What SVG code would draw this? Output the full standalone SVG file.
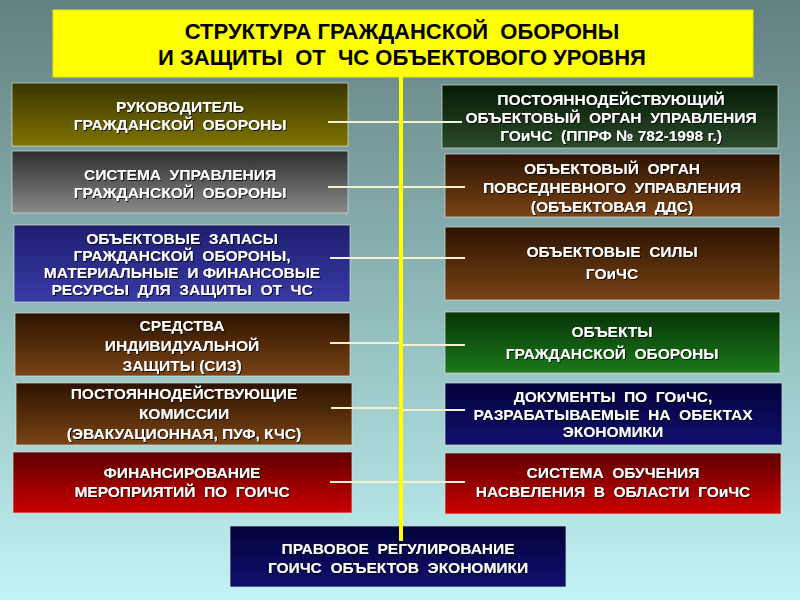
<svg xmlns="http://www.w3.org/2000/svg" width="800" height="600" viewBox="0 0 800 600">
<defs>
<linearGradient id="bg" x1="0" y1="0" x2="0" y2="1">
<stop offset="0" stop-color="#62807f"/><stop offset="0.5" stop-color="#8fb9b9"/><stop offset="1" stop-color="#c2f3f5"/>
</linearGradient>
<linearGradient id="olive" x1="0" y1="0" x2="0" y2="1"><stop offset="0" stop-color="#3a3500"/><stop offset="1" stop-color="#807400"/></linearGradient>
<linearGradient id="grey" x1="0" y1="0" x2="0" y2="1"><stop offset="0" stop-color="#2e2e2e"/><stop offset="1" stop-color="#8a8a8a"/></linearGradient>
<linearGradient id="blue" x1="0" y1="0" x2="0" y2="1"><stop offset="0" stop-color="#1e1e70"/><stop offset="1" stop-color="#3a3aa6"/></linearGradient>
<linearGradient id="brown" x1="0" y1="0" x2="0" y2="1"><stop offset="0" stop-color="#2c1300"/><stop offset="1" stop-color="#7a4416"/></linearGradient>
<linearGradient id="red" x1="0" y1="0" x2="0" y2="1"><stop offset="0" stop-color="#5e0000"/><stop offset="1" stop-color="#cc0000"/></linearGradient>
<linearGradient id="dgreen" x1="0" y1="0" x2="0" y2="1"><stop offset="0" stop-color="#061a06"/><stop offset="1" stop-color="#2a4a2a"/></linearGradient>
<linearGradient id="green" x1="0" y1="0" x2="0" y2="1"><stop offset="0" stop-color="#063406"/><stop offset="1" stop-color="#1c7a1c"/></linearGradient>
<linearGradient id="navy" x1="0" y1="0" x2="0" y2="1"><stop offset="0" stop-color="#02023a"/><stop offset="1" stop-color="#10106e"/></linearGradient>
<linearGradient id="tick" x1="0" y1="0" x2="0" y2="1"><stop offset="0" stop-color="#f4f4d8" stop-opacity="0"/><stop offset="0.5" stop-color="#f4f4d8"/><stop offset="1" stop-color="#f4f4d8" stop-opacity="0"/></linearGradient>
<filter id="sh" x="-10%" y="-30%" width="120%" height="160%"><feDropShadow dx="1" dy="1" stdDeviation="0.6" flood-color="#000" flood-opacity="0.8"/></filter>
</defs>
<style>
text{white-space:pre}
.box{stroke:#d8e0d8;stroke-width:1;stroke-opacity:0.7}
.t{font-family:"Liberation Sans",Arial,sans-serif;font-weight:bold;font-size:15.5px;fill:#fff;text-anchor:middle;filter:url(#sh)}
.title{font-family:"Liberation Sans",Arial,sans-serif;font-weight:bold;font-size:22px;fill:#000;text-anchor:middle}
.h{stroke:#f2f2d0;stroke-width:2;fill:none}
.v{stroke:url(#tick);stroke-width:1.5;fill:none}
</style>
<rect width="800" height="600" fill="url(#bg)"/>

<g id="title">
<rect x="53" y="10" width="700" height="67" fill="#ffff00" stroke="#e8e800"/>
<text class="title" x="402" y="39">СТРУКТУРА ГРАЖДАНСКОЙ  ОБОРОНЫ</text>
<text class="title" x="402" y="65">И ЗАЩИТЫ  ОТ  ЧС ОБЪЕКТОВОГО УРОВНЯ</text>
</g>

<g id="l1"><rect class="box" x="12" y="83" width="336" height="63" fill="url(#olive)"/>
<text class="t" x="180" y="112">РУКОВОДИТЕЛЬ</text><text class="t" x="180" y="130">ГРАЖДАНСКОЙ  ОБОРОНЫ</text></g>
<g id="l2"><rect class="box" x="12" y="151" width="336" height="62" fill="url(#grey)"/>
<text class="t" x="180" y="180">СИСТЕМА  УПРАВЛЕНИЯ</text><text class="t" x="180" y="198">ГРАЖДАНСКОЙ  ОБОРОНЫ</text></g>
<g id="l3"><rect class="box" x="14" y="225" width="336" height="77" fill="url(#blue)"/>
<text class="t" x="182" y="244">ОБЪЕКТОВЫЕ  ЗАПАСЫ</text><text class="t" x="182" y="261">ГРАЖДАНСКОЙ  ОБОРОНЫ,</text><text class="t" x="182" y="278">МАТЕРИАЛЬНЫЕ  И ФИНАНСОВЫЕ</text><text class="t" x="182" y="295">РЕСУРСЫ  ДЛЯ  ЗАЩИТЫ  ОТ  ЧС</text></g>
<g id="l4"><rect class="box" x="15" y="313" width="335" height="63" fill="url(#brown)"/>
<text class="t" x="182" y="331">СРЕДСТВА</text><text class="t" x="182" y="351">ИНДИВИДУАЛЬНОЙ</text><text class="t" x="182" y="371">ЗАЩИТЫ (СИЗ)</text></g>
<g id="l5"><rect class="box" x="16" y="383" width="336" height="62" fill="url(#brown)"/>
<text class="t" x="184" y="399">ПОСТОЯННОДЕЙСТВУЮЩИЕ</text><text class="t" x="184" y="419">КОМИССИИ</text><text class="t" x="184" y="439">(ЭВАКУАЦИОННАЯ, ПУФ, КЧС)</text></g>
<g id="l6"><rect class="box" x="13" y="452" width="339" height="61" fill="url(#red)"/>
<text class="t" x="182" y="478">ФИНАНСИРОВАНИЕ</text><text class="t" x="182" y="497">МЕРОПРИЯТИЙ  ПО  ГОИЧС</text></g>

<g id="r1"><rect class="box" x="442" y="85" width="336" height="63" fill="url(#dgreen)"/>
<text class="t" x="611" y="105">ПОСТОЯННОДЕЙСТВУЮЩИЙ</text><text class="t" x="611" y="123">ОБЪЕКТОВЫЙ  ОРГАН  УПРАВЛЕНИЯ</text><text class="t" x="611" y="141">ГОиЧС  (ППРФ № 782-1998 г.)</text></g>
<g id="r2"><rect class="box" x="445" y="154" width="335" height="63" fill="url(#brown)"/>
<text class="t" x="612" y="174">ОБЪЕКТОВЫЙ  ОРГАН</text><text class="t" x="612" y="193">ПОВСЕДНЕВНОГО  УПРАВЛЕНИЯ</text><text class="t" x="612" y="212">(ОБЪЕКТОВАЯ  ДДС)</text></g>
<g id="r3"><rect class="box" x="445" y="227" width="335" height="73" fill="url(#brown)"/>
<text class="t" x="612" y="257">ОБЪЕКТОВЫЕ  СИЛЫ</text><text class="t" x="612" y="279">ГОиЧС</text></g>
<g id="r4"><rect class="box" x="445" y="312" width="335" height="61" fill="url(#green)"/>
<text class="t" x="612" y="337">ОБЪЕКТЫ</text><text class="t" x="612" y="359">ГРАЖДАНСКОЙ  ОБОРОНЫ</text></g>
<g id="r5"><rect class="box" x="445" y="383" width="337" height="62" fill="url(#navy)"/>
<text class="t" x="613" y="402">ДОКУМЕНТЫ  ПО  ГОиЧС,</text><text class="t" x="613" y="420">РАЗРАБАТЫВАЕМЫЕ  НА  ОБЕКТАХ</text><text class="t" x="613" y="437">ЭКОНОМИКИ</text></g>
<g id="r6"><rect class="box" x="445" y="453" width="336" height="61" fill="url(#red)"/>
<text class="t" x="613" y="478">СИСТЕМА  ОБУЧЕНИЯ</text><text class="t" x="613" y="497">НАСВЕЛЕНИЯ  В  ОБЛАСТИ  ГОиЧС</text></g>

<g id="bottom"><rect class="box" x="230" y="526" width="336" height="61" fill="url(#navy)"/>
<text class="t" x="398" y="554">ПРАВОВОЕ  РЕГУЛИРОВАНИЕ</text><text class="t" x="398" y="573">ГОИЧС  ОБЪЕКТОВ  ЭКОНОМИКИ</text></g>

<g id="connectors">
<path class="h" d="M328 122H400M328 187H400M330 258H400M330 343H400M331 408H400M330 482H400"/>
<path class="h" d="M402 122H462M402 187H465M402 258H465M402 345H465M402 410H465M402 482H465"/>
<path class="v" d="M328 96V146"/><path class="v" d="M329 161V212"/><path class="v" d="M331 240V300"/><path class="v" d="M331 320V375"/><path class="v" d="M332 392V445"/><path class="v" d="M331 458V512"/>
<path class="v" d="M462 95V148"/><path class="v" d="M465 160V217"/><path class="v" d="M465 232V290"/><path class="v" d="M465 322V372"/><path class="v" d="M465 388V440"/><path class="v" d="M466 458V505"/>
<rect x="399" y="77" width="4" height="464" fill="#ffff00"/>
</g>
</svg>
